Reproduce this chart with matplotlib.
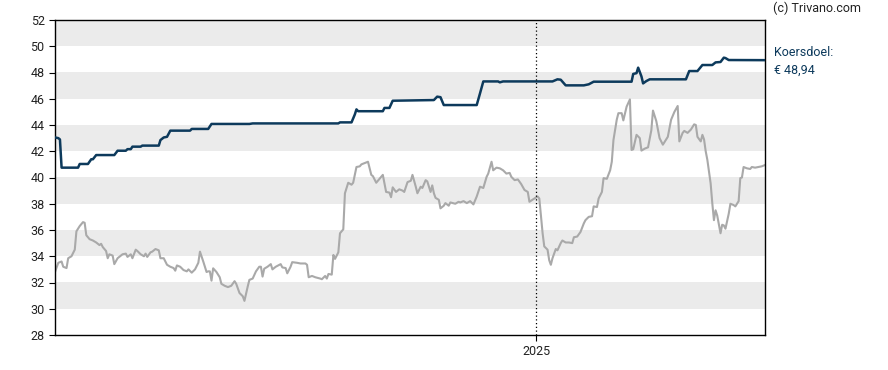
import matplotlib.pyplot as plt
import matplotlib.dates as mdates
import numpy as np
import pandas as pd

plt.rcParams['font.family'] = ['Roboto', 'DejaVu Sans']

start = pd.Timestamp('2024-03-15')

# koers (grijs) - dag t.o.v. start, waarde
koers_dag = [0, 2, 4, 5, 7, 8, 10, 12, 13, 15, 17, 18, 19, 21, 23, 25, 27, 28, 29, 31,
             32, 33, 35, 36, 38, 39, 41, 43, 44, 46, 47, 49, 50, 52, 54, 55, 56, 58, 59, 61,
             63, 64, 66, 68, 70, 72, 73, 74, 76, 78, 80, 81, 83, 85, 87, 88, 90, 92, 93, 94,
             95, 96, 98, 100, 101, 103, 105, 107, 109, 110, 112, 114, 115, 117, 118, 120, 122, 124, 125, 126,
             127, 129, 131, 132, 134, 137, 138, 140, 141, 143, 144, 147, 149, 152, 153, 154, 156, 158, 161, 162,
             164, 165, 166, 168, 169, 170, 172, 173, 175, 176, 178, 180, 181, 183, 185, 186, 190, 192, 193, 195,
             197, 199, 201, 203, 204, 205, 207, 209, 211, 212, 214, 216, 217, 219, 220, 222, 223, 225, 226, 228,
             229, 230, 231, 233, 234, 236, 237, 239, 240, 243, 245, 246, 248, 250, 252, 254, 256, 258, 260, 262,
             263, 265, 266, 268, 270, 272, 274, 276, 277, 279, 281, 283, 285, 287, 288, 291, 293, 294, 296, 297,
             299, 300, 301, 302, 304, 305, 307, 308, 310, 312, 314, 315, 317, 319, 321, 322, 324, 326, 327, 329,
             330, 332, 333, 335, 337, 338, 339, 341, 342, 344, 345, 347, 349, 350, 351, 353, 355, 356, 358, 360,
             362, 363, 365, 367, 369, 372, 374, 376, 378, 379, 381, 382, 384, 386, 388, 389, 390, 392, 393, 394,
             395, 396, 398, 399, 400, 401, 402, 404, 405, 406, 407, 409, 410, 412, 413, 415, 416, 417, 418, 420,
             422, 423, 425, 429, 431]
koers = [32.8, 33.5, 33.6, 33.2, 33.1, 33.85, 34.0, 34.5, 35.9, 36.3, 36.6, 36.55, 35.6, 35.3, 35.2, 35.05, 34.85, 34.95, 34.7, 34.4,
         33.85, 34.15, 34.05, 33.4, 33.85, 33.95, 34.15, 34.2, 33.95, 34.15, 33.85, 34.5, 34.4, 34.15, 34.0, 34.2, 33.95, 34.3, 34.35, 34.55,
         34.45, 33.85, 33.85, 33.35, 33.2, 33.1, 32.9, 33.3, 33.2, 32.95, 32.85, 33.0, 32.75, 33.0, 33.5, 34.35, 33.6, 32.8, 32.85, 32.85,
         32.14, 33.08, 32.8, 32.4, 31.9, 31.75, 31.65, 31.75, 32.1, 31.9, 31.2, 30.95, 30.6, 31.7, 32.2, 32.3, 32.85, 33.2, 33.2, 32.45,
         33.05, 33.2, 33.4, 33.0, 33.2, 33.4, 33.15, 33.1, 32.7, 33.2, 33.55, 33.5, 33.45, 33.45, 33.35, 32.4, 32.5, 32.4, 32.3, 32.25,
         32.5, 32.3, 32.65, 32.6, 34.1, 33.8, 34.3, 35.75, 36.05, 38.8, 39.6, 39.45, 39.6, 40.8, 40.85, 41.0, 41.2, 40.2, 40.1, 39.6,
         39.9, 40.2, 38.9, 38.85, 38.5, 39.25, 38.9, 39.1, 39.0, 38.9, 39.65, 39.75, 40.2, 39.3, 38.8, 39.3, 39.2, 39.8, 39.7, 38.9,
         39.4, 38.8, 38.45, 38.3, 37.65, 37.85, 38.05, 37.85, 38.1, 38.0, 38.15, 38.1, 38.2, 38.05, 38.2, 37.95, 38.55, 39.3, 39.2, 40.05,
         40.3, 41.2, 40.55, 40.75, 40.7, 40.55, 40.3, 40.35, 40.05, 39.8, 39.85, 39.5, 39.05, 38.9, 38.15, 38.4, 38.55, 38.4, 35.75, 34.75,
         34.5, 33.7, 33.35, 33.85, 34.55, 34.45, 35.0, 35.2, 35.05, 35.05, 35.0, 35.45, 35.5, 35.85, 36.5, 36.75, 37.0, 37.05, 37.8, 37.75,
         38.4, 38.9, 39.95, 39.9, 40.55, 41.2, 42.85, 44.4, 44.9, 44.9, 44.35, 45.4, 45.95, 42.1, 42.15, 43.25, 43.0, 42.05, 42.2, 42.3,
         43.6, 45.1, 44.3, 43.0, 42.5, 43.1, 44.4, 45.0, 45.45, 42.75, 43.4, 43.55, 43.4, 43.65, 44.05, 44.0, 43.1, 42.75, 43.25, 42.9,
         42.0, 41.35, 39.55, 38.05, 36.75, 37.5, 37.1, 35.75, 36.4, 36.35, 36.1, 37.25, 38.0, 37.9, 37.8, 38.2, 39.95, 40.0, 40.8, 40.7,
         40.65, 40.8, 40.75, 40.85, 40.95]

# koersdoel (donkerblauw)
doel_dag = [0, 2, 3, 4, 14, 15, 20, 22, 23, 25, 36, 38, 43, 44, 46, 47, 52, 53, 63, 64,
            66, 68, 70, 82, 83, 93, 95, 118, 120, 172, 173, 180, 182, 183, 184, 199, 200, 203, 205, 230,
            232, 234, 236, 256, 258, 260, 269, 270, 272, 302, 305, 307, 310, 321, 324, 327, 350, 351, 353, 354,
            356, 357, 359, 361, 383, 385, 390, 393, 399, 401, 404, 406, 407, 409, 431]
doel = [43.05, 43.0, 42.9, 40.75, 40.75, 41.03, 41.03, 41.39, 41.39, 41.71, 41.71, 42.04, 42.04, 42.16, 42.16, 42.35, 42.35, 42.43, 42.43, 42.85,
        43.05, 43.1, 43.57, 43.57, 43.7, 43.7, 44.08, 44.08, 44.12, 44.12, 44.2, 44.2, 44.8, 45.19, 45.05, 45.05, 45.3, 45.3, 45.85, 45.9,
        46.16, 46.12, 45.52, 45.52, 46.41, 47.32, 47.32, 47.25, 47.32, 47.32, 47.48, 47.45, 47.02, 47.02, 47.1, 47.3, 47.3, 47.89, 47.95, 48.37,
        47.7, 47.17, 47.35, 47.48, 47.48, 48.11, 48.11, 48.57, 48.57, 48.77, 48.8, 49.13, 49.1, 48.95, 48.94]

yticks = list(range(28, 53, 2))
koersdoel_tekst = "Koersdoel:\n€ 48,94"

koers_x = start + pd.to_timedelta(koers_dag, unit='D')
doel_x = start + pd.to_timedelta(doel_dag, unit='D')
x_end = start + pd.Timedelta(days=431)
jaar = pd.Timestamp('2025-01-01')

fig = plt.figure(figsize=(8.88, 3.70), dpi=100)
ax = fig.add_axes([55/888, 1-335/370, 710/888, 315/370])

# grijze banden
for lo in range(30, 52, 4):
    ax.axhspan(lo, lo + 2, color='#ebebeb', lw=0, zorder=0)

ax.plot(koers_x, koers, color='#a9a9a9', lw=1.5, zorder=2)
ax.plot(doel_x, doel, color='#0d3a5c', lw=1.8, zorder=3)
ax.axvline(jaar, color='black', lw=0.9, ls=(0, (1, 2)), zorder=4)

ax.set_xlim(start, x_end)
ax.set_ylim(28, 52)
ax.set_yticks(yticks)
ax.set_xticks([jaar])
ax.xaxis.set_major_formatter(mdates.DateFormatter('%Y'))
ax.tick_params(axis='both', labelsize=9, length=4, width=0.8, color='black', labelcolor='#222222')
for s in ax.spines.values():
    s.set_linewidth(1.0)
    s.set_color('black')

fig.text(773/888, 1-8/370, "(c) Trivano.com", fontsize=9, color='#222222', va='center', ha='left')
fig.text(774/888, 1-52/370, "Koersdoel:", fontsize=9, color='#0d3a5c', va='center', ha='left')
fig.text(774/888, 1-70/370, "€ 48,94", fontsize=9, color='#0d3a5c', va='center', ha='left')

fig.savefig('out.png', dpi=100)
